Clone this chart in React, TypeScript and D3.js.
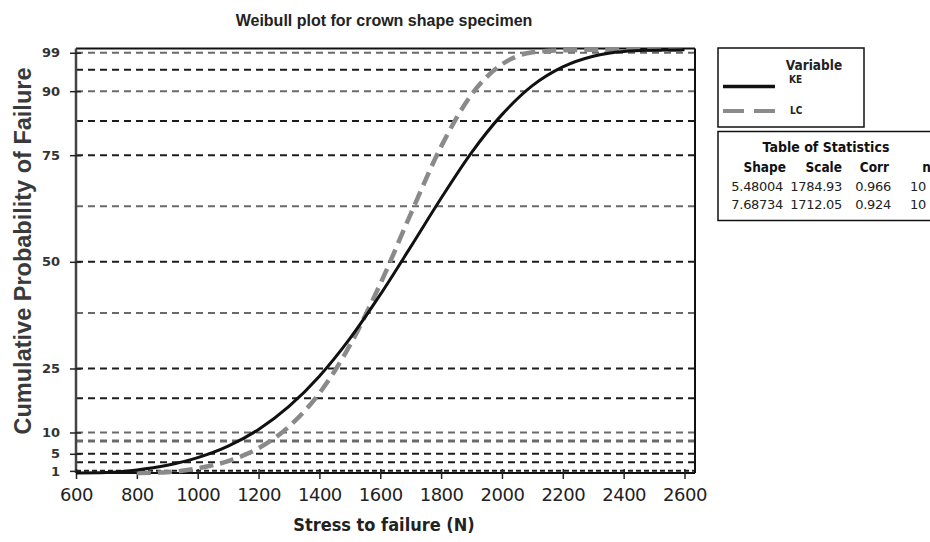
import React, { useEffect, useRef } from "react";
import * as d3 from "d3";

const keStress = [600, 700, 800, 900, 1000, 1100, 1200, 1300, 1400, 1500, 1600, 1700, 1800, 1900, 2000, 2100, 2200, 2300, 2400, 2500, 2600];
const keProb = [0.5, 0.6, 1.2, 2.3, 4.1, 6.8, 10.7, 16.1, 23.2, 32.0, 42.3, 53.5, 64.9, 75.6, 84.5, 91.3, 95.7, 98.2, 99.3, 99.6, 99.7];

const lcStress = [800, 900, 1000, 1100, 1200, 1300, 1400, 1500, 1600, 1700, 1800, 1900, 2000, 2100, 2200, 2300, 2400, 2500, 2600];
const lcProb = [0.5, 0.7, 1.6, 3.3, 6.3, 11.4, 19.2, 30.4, 44.8, 61.2, 77.0, 89.2, 96.3, 99.1, 99.6, 99.7, 99.7, 99.7, 99.7];

const xTicks = [600, 800, 1000, 1200, 1400, 1600, 1800, 2000, 2200, 2400, 2600];
const yTicks = [1, 5, 10, 25, 50, 75, 90, 99];
const gridValues = [1, 3, 5, 8, 10, 18, 25, 38, 50, 63, 75, 83, 90, 95, 99];
const grayGrid = [99, 90, 63, 38, 10, 8];

const statsHeader = ["Shape", "Scale", "Corr", "n"];
const statsRows = [
  ["5.48004", "1784.93", "0.966", "10"],
  ["7.68734", "1712.05", "0.924", "10"],
];

const W = 930;
const H = 542;
const left = 76;
const right = 695;
const top = 48.5;
const bottom = 473;

const App = () => {
  const svgRef = useRef<SVGSVGElement>(null);

  useEffect(() => {
    const svg = d3.select(svgRef.current);
    svg.selectAll("*").remove();

    const x = d3.scaleLinear().domain([600, 2600]).range([left, 684.5]);
    const y = d3.scaleLinear().domain([0.5, 100]).range([bottom, top]);

    // dashed gridlines
    svg
      .append("g")
      .selectAll("line")
      .data(gridValues)
      .join("line")
      .attr("x1", left)
      .attr("x2", right)
      .attr("y1", (d) => y(d))
      .attr("y2", (d) => y(d))
      .attr("stroke", (d) => (grayGrid.includes(d) ? "#6a6a6a" : "#1c1c1c"))
      .attr("stroke-width", (d) => (d === 8 ? 3 : 2))
      .attr("stroke-dasharray", (d) => (d === 1 ? "5,3" : "7,5"));

    // frame
    svg.append("line").attr("x1", left).attr("x2", right).attr("y1", top).attr("y2", top)
      .attr("stroke", "#111").attr("stroke-width", 2);
    svg.append("line").attr("x1", right).attr("x2", right).attr("y1", top).attr("y2", bottom)
      .attr("stroke", "#111").attr("stroke-width", 2);

    // y axis
    const yAxis = d3.axisLeft(y).tickValues(yTicks).tickSize(5).tickSizeOuter(0).tickPadding(11);
    const gy = svg.append("g").attr("transform", `translate(${left},0)`).call(yAxis);
    gy.select(".domain").attr("stroke", "#444").attr("stroke-width", 2.5)
      .attr("d", `M0,${top}V${bottom}`);
    gy.selectAll(".tick line").attr("x1", 5).attr("x2", -6).attr("stroke", "#222").attr("stroke-width", 1.5);
    gy.selectAll(".tick text")
      .attr("font-family", "DejaVu Sans")
      .attr("font-weight", "bold")
      .attr("font-size", 13)
      .attr("fill", "#333");

    // x axis
    const xAxis = d3.axisBottom(x).tickValues(xTicks).tickFormat(d3.format("d")).tickSize(6).tickSizeOuter(0).tickPadding(9);
    const gx = svg.append("g").attr("transform", `translate(0,${bottom})`).call(xAxis);
    gx.select(".domain").attr("stroke", "#111").attr("stroke-width", 2)
      .attr("d", `M${left},0H${right}`);
    gx.selectAll(".tick line").attr("y1", -4).attr("y2", 6).attr("stroke", "#222").attr("stroke-width", 1.5);
    gx.selectAll(".tick text")
      .attr("font-family", "DejaVu Sans")
      .attr("font-size", 18)
      .attr("letter-spacing", -0.5)
      .attr("fill", "#222");

    // fitted curves
    const line = d3
      .line<[number, number]>()
      .x((d) => x(d[0]))
      .y((d) => y(d[1]))
      .curve(d3.curveMonotoneX);

    svg.append("path")
      .datum(lcStress.map((s, i) => [s, lcProb[i]] as [number, number]))
      .attr("d", line)
      .attr("fill", "none")
      .attr("stroke", "#8a8a8a")
      .attr("stroke-width", 4.5)
      .attr("stroke-dasharray", "14,7");

    svg.append("path")
      .datum(keStress.map((s, i) => [s, keProb[i]] as [number, number]))
      .attr("d", line)
      .attr("fill", "none")
      .attr("stroke", "#111")
      .attr("stroke-width", 3);

    // titles
    svg.append("text")
      .attr("x", 384).attr("y", 26)
      .attr("text-anchor", "middle")
      .attr("font-family", "Liberation Sans, Arial")
      .attr("font-weight", "bold")
      .attr("font-size", 16)
      .attr("fill", "#222")
      .text("Weibull plot for crown shape specimen");

    svg.append("text")
      .attr("transform", "translate(31,251) rotate(-90)")
      .attr("text-anchor", "middle")
      .attr("font-family", "Liberation Sans, Arial")
      .attr("font-weight", "bold")
      .attr("font-size", 23.5)
      .attr("fill", "#3a3a3a")
      .text("Cumulative Probability of Failure");

    svg.append("text")
      .attr("x", 384).attr("y", 531)
      .attr("text-anchor", "middle")
      .attr("font-family", "DejaVu Sans Condensed, DejaVu Sans")
      .attr("font-weight", "bold")
      .attr("font-size", 18)
      .attr("fill", "#222")
      .text("Stress to failure (N)");

    // legend box
    const lg = svg.append("g");
    lg.append("rect").attr("x", 718).attr("y", 48).attr("width", 146).attr("height", 79)
      .attr("fill", "white").attr("stroke", "#111").attr("stroke-width", 1.5);
    lg.append("text").attr("x", 814).attr("y", 70).attr("text-anchor", "middle")
      .attr("font-family", "DejaVu Sans Condensed, DejaVu Sans").attr("font-size", 13.5)
      .attr("font-weight", 600).attr("fill", "#222").text("Variable");
    lg.append("line").attr("x1", 723).attr("x2", 775).attr("y1", 86.5).attr("y2", 86.5)
      .attr("stroke", "#111").attr("stroke-width", 3.5);
    lg.append("text").attr("x", 789).attr("y", 83)
      .attr("font-family", "DejaVu Sans Condensed, DejaVu Sans").attr("font-size", 10)
      .attr("font-weight", "bold").attr("fill", "#222").text("KE");
    lg.append("line").attr("x1", 723).attr("x2", 775).attr("y1", 111).attr("y2", 111)
      .attr("stroke", "#8a8a8a").attr("stroke-width", 4).attr("stroke-dasharray", "21,10");
    lg.append("text").attr("x", 790).attr("y", 114)
      .attr("font-family", "DejaVu Sans Condensed, DejaVu Sans").attr("font-size", 10)
      .attr("font-weight", "bold").attr("fill", "#222").text("LC");

    // table of statistics
    const tb = svg.append("g");
    tb.append("rect").attr("x", 718).attr("y", 131.5).attr("width", 240).attr("height", 89)
      .attr("fill", "white").attr("stroke", "#111").attr("stroke-width", 1.5);
    tb.append("text").attr("x", 826).attr("y", 152).attr("text-anchor", "middle")
      .attr("font-family", "DejaVu Sans Condensed, DejaVu Sans").attr("font-weight", "bold")
      .attr("font-size", 14).attr("fill", "#111").text("Table of Statistics");

    const hdrRight = [786, 842, 889, 931];
    tb.selectAll(".hdr")
      .data(statsHeader)
      .join("text")
      .attr("class", "hdr")
      .attr("x", (d, i) => hdrRight[i])
      .attr("y", 172)
      .attr("text-anchor", "end")
      .attr("font-family", "DejaVu Sans Condensed, DejaVu Sans")
      .attr("font-weight", "bold")
      .attr("font-size", 13.5)
      .attr("fill", "#111")
      .text((d) => d);

    const colRight = [783, 842, 891, 926];
    statsRows.forEach((row, r) => {
      tb.selectAll(`.row${r}`)
        .data(row)
        .join("text")
        .attr("class", `row${r}`)
        .attr("x", (d, i) => colRight[i])
        .attr("y", 191 + r * 18)
        .attr("text-anchor", "end")
        .attr("font-family", "DejaVu Sans")
        .attr("font-size", 13)
        .attr("letter-spacing", -0.3)
        .attr("fill", "#222")
        .text((d) => d);
    });
  }, []);

  return (
    <svg
      ref={svgRef}
      width={W}
      height={H}
      style={{ position: "absolute", left: 0, top: 0, background: "white" }}
    />
  );
};

export default App;
